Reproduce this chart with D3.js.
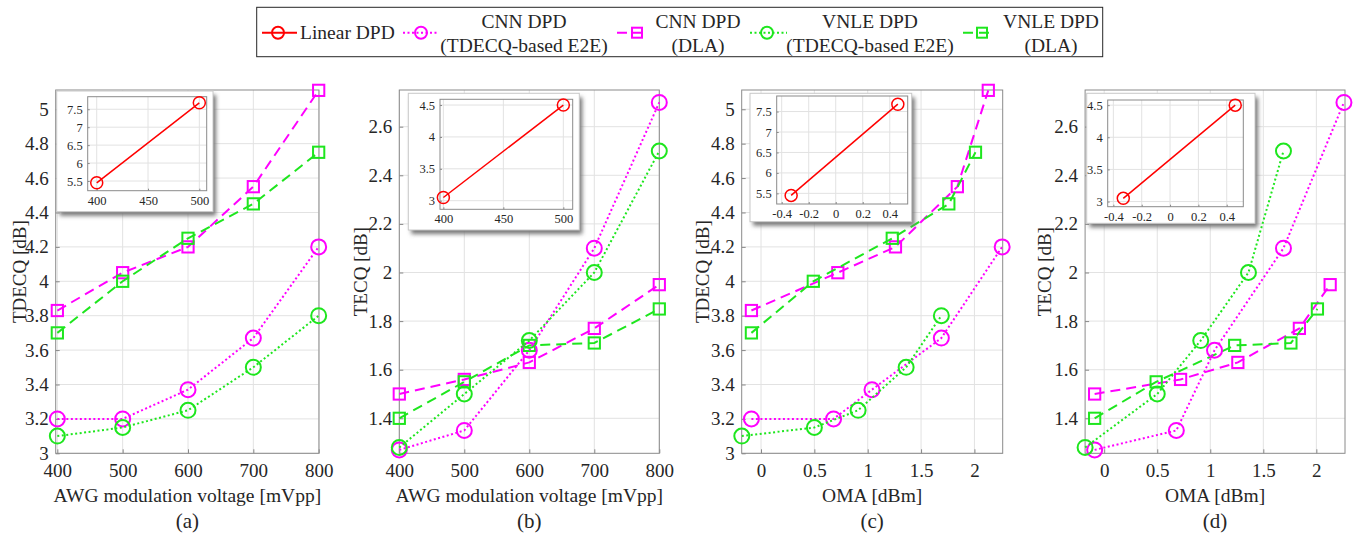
<!DOCTYPE html>
<html><head><meta charset="utf-8">
<script src="https://cdn.jsdelivr.net/npm/d3@7"></script>
<style>
body{margin:0;background:#fff;}
svg text{font-family:"Liberation Serif","Times New Roman",serif;fill:#262626;}
</style></head><body>
<svg id="chart" width="1359" height="536"></svg>
<script>
// x values
var voltage = [400, 500, 600, 700, 800];
var linearVoltage = [400, 500];
var linearOma = [-0.33, 0.46];
var cnnE2eOma = [-0.09, 0.68, 1.04, 1.69, 2.26];
var cnnDlaOma = [-0.09, 0.72, 1.26, 1.84, 2.13];
var vnleE2eOma = [-0.18, 0.50, 0.91, 1.36, 1.69];
var vnleDlaOma = [-0.09, 0.49, 1.23, 1.76, 2.01];

// TDECQ [dB]
var linearTdecq = [5.45, 7.68];
var cnnE2eTdecq = [3.20, 3.20, 3.37, 3.67, 4.20];
var cnnDlaTdecq = [3.83, 4.05, 4.20, 4.55, 5.11];
var vnleE2eTdecq = [3.10, 3.15, 3.25, 3.50, 3.80];
var vnleDlaTdecq = [3.70, 4.00, 4.25, 4.45, 4.75];

// TECQ [dB]
var linearTecq = [3.05, 4.50];
var cnnE2eTecq = [1.27, 1.35, 1.68, 2.10, 2.70];
var cnnDlaTecq = [1.50, 1.56, 1.63, 1.77, 1.95];
var vnleE2eTecq = [1.28, 1.50, 1.72, 2.00, 2.50];
var vnleDlaTecq = [1.40, 1.55, 1.70, 1.71, 1.85];

// tick labels
var voltageTicks = [400, 500, 600, 700, 800];
var omaTicks = [0, 0.5, 1, 1.5, 2];
var tdecqTicks = [3, 3.2, 3.4, 3.6, 3.8, 4, 4.2, 4.4, 4.6, 4.8, 5];
var tecqTicks = [1.4, 1.6, 1.8, 2, 2.2, 2.4, 2.6];
var insetVoltageTicks = [400, 450, 500];
var insetOmaTicks = [-0.4, -0.2, 0, 0.2, 0.4];
var insetTdecqTicks = [5.5, 6, 6.5, 7, 7.5];
var insetTecqTicks = [3, 3.5, 4, 4.5];

var legendLabels = [['Linear DPD'], ['CNN DPD', '(TDECQ-based E2E)'], ['CNN DPD', '(DLA)'],
    ['VNLE DPD', '(TDECQ-based E2E)'], ['VNLE DPD', '(DLA)']];

var MAG = '#ff00ff', GRN = '#1ee61e', RED = '#ff0000';
var FONT = '"Liberation Serif","Times New Roman",serif';
var styles = {
    linear: {color: RED, dash: null, marker: 'circle'},
    cnnE2e: {color: MAG, dash: '2,2.5', marker: 'circle'},
    cnnDla: {color: MAG, dash: '10,6', marker: 'square'},
    vnleE2e: {color: GRN, dash: '2,2.5', marker: 'circle'},
    vnleDla: {color: GRN, dash: '10,6', marker: 'square'}
};

var svg = d3.select('#chart');
var defs = svg.append('defs');
defs.append('filter').attr('id', 'shadow').attr('x', '-20%').attr('y', '-20%').attr('width', '140%').attr('height', '140%')
    .append('feGaussianBlur').attr('stdDeviation', 2.2);

function addText(g, x, y, txt, size, anchor) {
    return g.append('text').attr('x', x).attr('y', y).attr('text-anchor', anchor || 'middle')
        .style('font-family', FONT).style('font-size', size + 'px').text(txt);
}

function drawMarker(g, type, cx, cy, size, color, sw) {
    if (type === 'circle') {
        g.append('circle').attr('cx', cx).attr('cy', cy).attr('r', size)
            .attr('fill', 'none').attr('stroke', color).attr('stroke-width', sw);
    } else {
        g.append('rect').attr('x', cx - size).attr('y', cy - size)
            .attr('width', size * 2).attr('height', size * 2)
            .attr('fill', 'none').attr('stroke', color).attr('stroke-width', sw);
    }
}

function drawAxesBox(g, x, y, L, T, R, B, xTicks, yTicks, fs, tickLen, padX, padY) {
    g.append('rect').attr('x', L).attr('y', T).attr('width', R - L).attr('height', B - T).attr('fill', '#fff');
    g.selectAll('.gx').data(xTicks).join('line')
        .attr('x1', d => x(d)).attr('x2', d => x(d)).attr('y1', T).attr('y2', B)
        .attr('stroke', '#e2e2e2').attr('stroke-width', 1);
    g.selectAll('.gy').data(yTicks).join('line')
        .attr('y1', d => y(d)).attr('y2', d => y(d)).attr('x1', L).attr('x2', R)
        .attr('stroke', '#e2e2e2').attr('stroke-width', 1);
    var ax = g.append('g').attr('transform', 'translate(0,' + B + ')')
        .call(d3.axisBottom(x).tickValues(xTicks).tickSize(-tickLen).tickPadding(padX).tickFormat(d3.format('')));
    var ay = g.append('g').attr('transform', 'translate(' + L + ',0)')
        .call(d3.axisLeft(y).tickValues(yTicks).tickSize(-tickLen).tickPadding(padY).tickFormat(d3.format('')));
    [ax, ay].forEach(a => {
        a.attr('font-family', FONT).attr('font-size', fs);
        a.select('.domain').remove();
        a.selectAll('line').attr('stroke', '#888');
        a.selectAll('text').attr('fill', '#262626').style('font-family', FONT).style('font-size', fs + 'px');
    });
    ax.selectAll('text').text(d => d < 0 ? '-' + Math.abs(d) : d);
    g.append('rect').attr('x', L).attr('y', T).attr('width', R - L).attr('height', B - T)
        .attr('fill', 'none').attr('stroke', '#8a8a8a').attr('stroke-width', 1);
}

function drawSeries(g, x, y, xs, ys, st, lw, ms) {
    var pts = d3.zip(xs, ys);
    g.append('path').datum(pts)
        .attr('d', d3.line().x(d => x(d[0])).y(d => y(d[1])))
        .attr('fill', 'none').attr('stroke', st.color).attr('stroke-width', lw)
        .attr('stroke-dasharray', st.dash);
    pts.forEach(d => drawMarker(g, st.marker, x(d[0]), y(d[1]), st.marker === 'circle' ? ms : ms * 0.75, st.color, lw));
}

function drawPanel(p) {
    var g = svg.append('g');
    var x = d3.scaleLinear().domain(p.xDomain).range([p.left, p.right]);
    var y = d3.scaleLinear().domain(p.yDomain).range([p.bottom, p.top]);
    drawAxesBox(g, x, y, p.left, p.top, p.right, p.bottom, p.xTicks, p.yTicks, 19, 4, 10, 7);
    p.series.forEach(s => drawSeries(g, x, y, s[0], s[1], s[2], 2, 7.5));

    var cx = (p.left + p.right) / 2;
    addText(g, cx, p.bottom + 49, p.xLabel, 19.5);
    addText(g, cx, p.bottom + 75, p.caption, 21);
    addText(g, 0, 0, p.yLabel, 19)
        .attr('transform', 'translate(' + p.yLabelX + ',' + ((p.top + p.bottom) / 2) + ') rotate(-90)');

    // inset
    var n = p.inset;
    var ig = g.append('g');
    ig.append('rect').attr('x', n.box[0] + 3).attr('y', n.box[1] + 4)
        .attr('width', n.box[2] - n.box[0]).attr('height', n.box[3] - n.box[1])
        .attr('fill', '#777').attr('filter', 'url(#shadow)');
    ig.append('rect').attr('x', n.box[0]).attr('y', n.box[1])
        .attr('width', n.box[2] - n.box[0]).attr('height', n.box[3] - n.box[1])
        .attr('fill', '#fff').attr('stroke', '#c8c8c8');
    var ix = d3.scaleLinear().domain(n.xDomain).range([n.plot[0], n.plot[2]]);
    var iy = d3.scaleLinear().domain(n.yDomain).range([n.plot[3], n.plot[1]]);
    drawAxesBox(ig, ix, iy, n.plot[0], n.plot[1], n.plot[2], n.plot[3], n.xTicks, n.yTicks, 12.5, 2, 5, 5);
    drawSeries(ig, ix, iy, n.xs, n.ys, styles.linear, 1.5, 6);
}

var panels = [
    {left: 55.7, right: 319, top: 90, bottom: 453.3, xDomain: [397.5, 800.5], yDomain: [3, 5.112],
     xTicks: voltageTicks, yTicks: tdecqTicks, yLabel: 'TDECQ [dB]', yLabelX: 26,
     xLabel: 'AWG modulation voltage [mVpp]', caption: '(a)',
     series: [[voltage, cnnDlaTdecq, styles.cnnDla], [voltage, vnleDlaTdecq, styles.vnleDla],
              [voltage, cnnE2eTdecq, styles.cnnE2e], [voltage, vnleE2eTdecq, styles.vnleE2e]],
     inset: {box: [56.7, 91, 213, 211.7], plot: [87.7, 96.7, 206.7, 190.7], xDomain: [391.2, 507.2], yDomain: [5.23, 7.85],
             xTicks: insetVoltageTicks, yTicks: insetTdecqTicks, xs: linearVoltage, ys: linearTdecq}},
    {left: 399.3, right: 659.3, top: 90, bottom: 453.3, xDomain: [400, 800], yDomain: [1.256, 2.751],
     xTicks: voltageTicks, yTicks: tecqTicks, yLabel: 'TECQ [dB]', yLabelX: 367,
     xLabel: 'AWG modulation voltage [mVpp]', caption: '(b)',
     series: [[voltage, cnnDlaTecq, styles.cnnDla], [voltage, vnleDlaTecq, styles.vnleDla],
              [voltage, cnnE2eTecq, styles.cnnE2e], [voltage, vnleE2eTecq, styles.vnleE2e]],
     inset: {box: [408.3, 93.3, 579.3, 230], plot: [440, 99.3, 572.7, 209.3], xDomain: [397.2, 507.8], yDomain: [2.865, 4.59],
             xTicks: insetVoltageTicks, yTicks: insetTecqTicks, xs: linearVoltage, ys: linearTecq}},
    {left: 741.7, right: 1002.7, top: 90, bottom: 453.3, xDomain: [-0.181, 2.265], yDomain: [3, 5.112],
     xTicks: omaTicks, yTicks: tdecqTicks, yLabel: 'TDECQ [dB]', yLabelX: 709,
     xLabel: 'OMA [dBm]', caption: '(c)',
     series: [[cnnDlaOma, cnnDlaTdecq, styles.cnnDla], [vnleDlaOma, vnleDlaTdecq, styles.vnleDla],
              [cnnE2eOma, cnnE2eTdecq, styles.cnnE2e], [vnleE2eOma, vnleE2eTdecq, styles.vnleE2e]],
     inset: {box: [750, 93.3, 911.7, 221.7], plot: [776.7, 96, 907.7, 204], xDomain: [-0.437, 0.533], yDomain: [5.24, 7.88],
             xTicks: insetOmaTicks, yTicks: insetTdecqTicks, xs: linearOma, ys: linearTdecq}},
    {left: 1085.1, right: 1345, top: 90, bottom: 453.3, xDomain: [-0.18, 2.27], yDomain: [1.256, 2.751],
     xTicks: omaTicks, yTicks: tecqTicks, yLabel: 'TECQ [dB]', yLabelX: 1051,
     xLabel: 'OMA [dBm]', caption: '(d)',
     series: [[cnnDlaOma, cnnDlaTecq, styles.cnnDla], [vnleDlaOma, vnleDlaTecq, styles.vnleDla],
              [cnnE2eOma, cnnE2eTecq, styles.cnnE2e], [vnleE2eOma, vnleE2eTecq, styles.vnleE2e]],
     inset: {box: [1086.7, 93.3, 1255, 223.3], plot: [1107.7, 100, 1243.3, 206.7], xDomain: [-0.44, 0.517], yDomain: [2.92, 4.58],
             xTicks: insetOmaTicks, yTicks: insetTecqTicks, xs: linearOma, ys: linearTecq}}
];
panels.forEach(drawPanel);

// legend
var legendStyles = [styles.linear, styles.cnnE2e, styles.cnnDla, styles.vnleE2e, styles.vnleDla];
var legendPos = [{x0: 262, x1: 297, m: 278, tx: 300, anchor: 'start'},
    {x0: 403, x1: 438, m: 421, tx: 524, anchor: 'middle'},
    {x0: 617, x1: 645, m: 637, tx: 698, anchor: 'middle'},
    {x0: 750, x1: 787, m: 767, tx: 870, anchor: 'middle'},
    {x0: 963, x1: 992, m: 982, tx: 1051, anchor: 'middle'}];
var lg = svg.append('g');
lg.append('rect').attr('x', 256.7).attr('y', 7.3).attr('width', 846).attr('height', 49.4)
    .attr('fill', '#fff').attr('stroke', '#262626').attr('stroke-width', 1);
legendStyles.forEach((st, i) => {
    var p = legendPos[i], cy = 32.7;
    lg.append('line').attr('x1', p.x0).attr('x2', p.x1).attr('y1', cy).attr('y2', cy)
        .attr('stroke', st.color).attr('stroke-width', 2).attr('stroke-dasharray', st.dash);
    drawMarker(lg, st.marker, p.m, cy, st.marker === 'circle' ? 6 : 5, st.color, 2);
    var lines = legendLabels[i];
    lines.forEach((t, j) => {
        var yy = lines.length === 1 ? 38.5 : 27.5 + j * 24.2;
        addText(lg, p.tx, yy, t, 19.5, p.anchor);
    });
});
</script></body></html>
